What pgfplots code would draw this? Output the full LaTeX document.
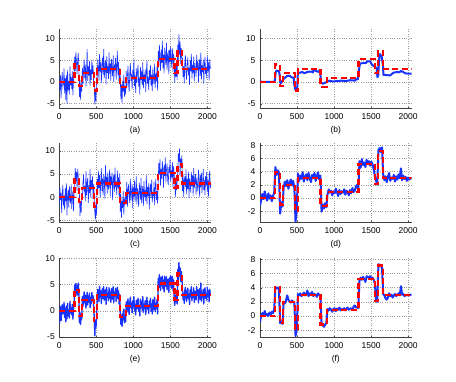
\documentclass[border=0pt]{standalone}
\usepackage{pgfplots}
\pgfplotsset{compat=1.18}
\usepackage{pgfplotstable}
\usepackage{fontspec}
\setmainfont{Liberation Sans}
\definecolor{mblue}{rgb}{0.1,0.2,1}

\pgfplotstableread[row sep=\\]{x y\\
0 0\\ 205 4\\ 266 -1\\ 307 2\\ 471 -2\\ 512 3\\ 819 -1.2\\ 901 0.9\\ 1331 5.2\\ 1556 2.1\\ 1597 7.1\\ 1659 3\\ 2048 3\\
}\tTrue

\pgfplotstableread[row sep=\\]{x y\\
0 0.8\\ 8 -2.1\\ 16 1.5\\ 24 -3.8\\ 32 0.4\\ 40 2.3\\ 48 -1.2\\ 56 -0.5\\ 64 3.1\\ 72 -2.6\\ 80 0.9\\ 88 -4.2\\ 96 1.7\\ 104 -5.0\\ 112 2.8\\ 120 -1.9\\ 128 0.2\\ 136 -2.9\\ 144 3.6\\ 152 -0.8\\ 160 1.1\\ 168 -1.6\\ 176 2.4\\ 184 -3.1\\ 192 0.6\\ 200 1.9\\
208 5.8\\ 216 2.5\\ 224 6.9\\ 232 4.3\\ 240 1.8\\ 248 5.2\\ 256 6.6\\ 264 3.1\\
272 -3.5\\ 280 0.4\\ 288 -4.1\\ 296 -0.4\\ 304 -2.2\\
312 3.3\\ 320 -0.4\\ 328 2.7\\ 336 5.2\\ 344 0.9\\ 352 4.0\\ 360 -1.0\\ 368 2.4\\ 376 7.6\\ 384 0.2\\ 392 3.6\\ 400 1.4\\ 408 4.7\\ 416 -0.9\\ 424 2.9\\ 432 0.5\\ 440 5.0\\ 448 1.8\\ 456 3.8\\ 464 -0.3\\
472 -0.3\\ 480 -5.2\\ 488 -1.5\\ 496 -4.4\\ 504 0.6\\
512 1.2\\ 520 5.2\\ 528 3.3\\ 536 0.3\\ 544 6.4\\ 552 2.4\\ 560 4.5\\ 568 -0.3\\ 576 3.8\\ 584 5.6\\ 592 1.6\\ 600 7.6\\ 608 0.9\\ 616 3.1\\ 624 4.9\\ 632 -0.6\\ 640 5.9\\ 648 2.1\\ 656 3.6\\ 664 0.7\\ 672 6.8\\ 680 1.8\\ 688 4.2\\ 696 0.2\\ 704 5.3\\ 712 3.4\\ 720 1.3\\ 728 6.1\\ 736 0.0\\ 744 4.0\\ 752 2.6\\ 760 5.5\\ 768 0.5\\ 776 3.7\\ 784 7.2\\ 792 1.5\\ 800 4.6\\ 808 -0.4\\ 816 3.2\\
824 0.9\\ 832 -4.0\\ 840 -0.6\\ 848 -4.8\\ 856 0.3\\ 864 -2.2\\ 872 1.7\\ 880 -3.4\\ 888 -0.9\\ 896 -2.9\\
904 2.5\\ 912 -1.4\\ 920 1.3\\ 928 3.7\\ 936 -0.6\\ 944 -2.2\\ 952 2.0\\ 960 4.3\\ 968 0.2\\ 976 1.8\\ 984 -1.7\\ 992 2.8\\ 1000 0.7\\ 1008 5.2\\ 1016 -0.9\\ 1024 1.5\\ 1032 -2.5\\ 1040 3.1\\ 1048 -0.2\\ 1056 2.3\\ 1064 3.9\\ 1072 -1.1\\ 1080 1.0\\ 1088 -2.9\\ 1096 3.4\\ 1104 0.4\\ 1112 2.6\\ 1120 -0.7\\ 1128 4.5\\ 1136 -1.5\\ 1144 1.7\\ 1152 0.0\\ 1160 2.9\\ 1168 -2.3\\ 1176 2.1\\ 1184 4.9\\ 1192 -0.4\\ 1200 1.2\\ 1208 -1.8\\ 1216 2.7\\ 1224 0.5\\ 1232 3.8\\ 1240 -1.0\\ 1248 1.6\\ 1256 -2.1\\ 1264 3.3\\ 1272 0.9\\ 1280 -0.5\\ 1288 4.2\\ 1296 -1.3\\ 1304 1.9\\ 1312 0.1\\ 1320 3.5\\ 1328 -2.0\\
1336 7.1\\ 1344 3.5\\ 1352 8.6\\ 1360 5.4\\ 1368 2.6\\ 1376 7.5\\ 1384 4.4\\ 1392 9.5\\ 1400 3.2\\ 1408 6.3\\ 1416 2.0\\ 1424 7.9\\ 1432 5.7\\ 1440 3.9\\ 1448 9.0\\ 1456 2.8\\ 1464 6.1\\ 1472 6.8\\ 1480 1.7\\ 1488 7.3\\ 1496 4.6\\ 1504 8.2\\ 1512 3.3\\ 1520 5.5\\ 1528 7.7\\ 1536 2.4\\ 1544 6.5\\ 1552 4.2\\
1560 -0.2\\ 1568 3.9\\ 1576 1.2\\ 1584 4.6\\ 1592 0.5\\
1600 8.6\\ 1608 4.7\\ 1616 11.0\\ 1624 6.3\\ 1632 9.3\\ 1640 4.1\\ 1648 7.8\\ 1656 5.4\\
1664 5.4\\ 1672 1.1\\ 1680 3.6\\ 1688 -0.3\\ 1696 4.7\\ 1704 6.1\\ 1712 2.1\\ 1720 0.5\\ 1728 4.2\\ 1736 5.6\\ 1744 1.6\\ 1752 3.3\\ 1760 -0.7\\ 1768 5.0\\ 1776 2.5\\ 1784 6.5\\ 1792 0.8\\ 1800 3.9\\ 1808 1.9\\ 1816 5.8\\ 1824 0.2\\ 1832 4.4\\ 1840 3.0\\ 1848 1.2\\ 1856 6.2\\ 1864 2.7\\ 1872 4.9\\ 1880 0.0\\ 1888 3.5\\ 1896 5.3\\ 1904 1.4\\ 1912 6.8\\ 1920 0.6\\ 1928 3.8\\ 1936 2.3\\ 1944 5.1\\ 1952 -0.4\\ 1960 4.1\\ 1968 5.7\\ 1976 1.8\\ 1984 3.4\\ 1992 0.9\\ 2000 6.0\\ 2008 2.4\\ 2016 4.5\\ 2024 0.3\\ 2032 5.2\\ 2040 3.2\\ 2047 3.1\\
}\tA

\pgfplotstableread[row sep=\\]{x y\\
0 0.3\\ 16 0\\ 190 0\\ 200 0.3\\ 212 2.2\\ 222 2.6\\ 255 2.5\\ 264 1.8\\ 272 0\\ 282 -0.3\\ 300 0.2\\ 315 0.6\\ 340 1.0\\ 370 1.4\\ 400 1.4\\ 428 1.1\\ 455 0.9\\ 464 -0.7\\ 477 -1.8\\ 495 -1.9\\ 503 -1.2\\ 512 2.2\\ 540 2.1\\ 570 2.3\\ 600 2.0\\ 640 2.3\\ 690 2.4\\ 715 2.2\\ 722 2.8\\ 760 2.5\\ 790 2.3\\ 805 2.7\\ 815 1.8\\ 825 -0.2\\ 850 -0.4\\ 880 -0.2\\ 900 0.0\\ 940 0.3\\ 980 0.1\\ 1040 0.2\\ 1100 0.3\\ 1160 0.2\\ 1220 0.4\\ 1280 0.3\\ 1297 0.6\\ 1322 0.6\\ 1335 2.5\\ 1350 4.2\\ 1400 4.4\\ 1430 4.3\\ 1445 4.7\\ 1490 4.7\\ 1510 4.0\\ 1540 3.6\\ 1576 3.2\\ 1586 1.1\\ 1598 1.5\\ 1608 5.0\\ 1620 6.4\\ 1644 5.8\\ 1660 4.0\\ 1668 1.6\\ 1700 1.6\\ 1757 1.5\\ 1800 2.1\\ 1850 2.3\\ 1880 2.2\\ 1905 2.5\\ 1935 2.3\\ 1960 2.0\\ 2000 1.9\\ 2047 1.9\\
}\tB

\pgfplotstableread[row sep=\\]{x y\\
0 -1.5\\ 8 2.2\\ 16 -0.6\\ 24 1.0\\ 32 -3.4\\ 40 0.7\\ 48 2.6\\ 56 -1.8\\ 64 0.3\\ 72 -2.7\\ 80 1.9\\ 88 -0.9\\ 96 3.0\\ 104 -3.9\\ 112 0.5\\ 120 1.6\\ 128 -2.2\\ 136 2.4\\ 144 -0.4\\ 152 -1.3\\ 160 2.9\\ 168 -2.5\\ 176 0.1\\ 184 1.3\\ 192 -3.0\\ 200 0.8\\
208 2.2\\ 216 6.3\\ 224 3.6\\ 232 5.5\\ 240 1.4\\ 248 6.1\\ 256 4.6\\ 264 2.8\\
272 0.6\\ 280 -4.0\\ 288 -0.8\\ 296 -3.3\\ 304 0.9\\
312 -0.5\\ 320 3.2\\ 328 4.9\\ 336 1.2\\ 344 2.4\\ 352 -0.9\\ 360 5.6\\ 368 0.4\\ 376 3.0\\ 384 4.2\\ 392 -1.2\\ 400 2.6\\ 408 0.9\\ 416 6.1\\ 424 0.0\\ 432 3.7\\ 440 1.7\\ 448 4.5\\ 456 -0.4\\ 464 2.9\\
472 0.2\\ 480 -3.4\\ 488 -4.8\\ 496 -1.0\\ 504 -3.9\\
512 3.9\\ 520 0.6\\ 528 5.7\\ 536 2.0\\ 544 4.8\\ 552 -0.1\\ 560 3.2\\ 568 6.3\\ 576 1.3\\ 584 4.1\\ 592 0.4\\ 600 5.0\\ 608 3.5\\ 616 -0.4\\ 624 6.9\\ 632 2.4\\ 640 4.4\\ 648 0.8\\ 656 5.5\\ 664 1.7\\ 672 3.0\\ 680 6.0\\ 688 0.2\\ 696 4.6\\ 704 2.6\\ 712 5.3\\ 720 -0.6\\ 728 3.8\\ 736 4.9\\ 744 1.1\\ 752 6.4\\ 760 2.2\\ 768 3.4\\ 776 0.5\\ 784 5.8\\ 792 1.9\\ 800 4.3\\ 808 0.0\\ 816 5.1\\
824 -3.2\\ 832 0.6\\ 840 -4.4\\ 848 -0.8\\ 856 -2.3\\ 864 1.3\\ 872 -3.8\\ 880 -0.3\\ 888 -1.7\\ 896 0.4\\
904 -0.3\\ 912 3.3\\ 920 -2.0\\ 928 1.6\\ 936 2.8\\ 944 0.4\\ 952 -1.2\\ 960 4.0\\ 968 -0.7\\ 976 1.2\\ 984 2.9\\ 992 -2.4\\ 1000 2.1\\ 1008 0.1\\ 1016 3.6\\ 1024 -1.0\\ 1032 1.4\\ 1040 4.5\\ 1048 -1.6\\ 1056 1.9\\ 1064 0.7\\ 1072 -2.1\\ 1080 3.1\\ 1088 1.7\\ 1096 -0.5\\ 1104 4.2\\ 1112 -1.3\\ 1120 1.0\\ 1128 2.4\\ 1136 -1.9\\ 1144 3.5\\ 1152 0.0\\ 1160 1.5\\ 1168 -0.8\\ 1176 4.7\\ 1184 -1.5\\ 1192 2.2\\ 1200 0.3\\ 1208 3.0\\ 1216 -2.6\\ 1224 1.8\\ 1232 2.6\\ 1240 -0.2\\ 1248 3.8\\ 1256 -1.1\\ 1264 1.1\\ 1272 0.2\\ 1280 3.3\\ 1288 -1.7\\ 1296 2.0\\ 1304 3.9\\ 1312 -0.6\\ 1320 1.3\\ 1328 -1.4\\
1336 3.3\\ 1344 7.4\\ 1352 4.9\\ 1360 8.2\\ 1368 2.5\\ 1376 6.2\\ 1384 4.0\\ 1392 7.8\\ 1400 5.6\\ 1408 2.1\\ 1416 7.0\\ 1424 4.6\\ 1432 8.6\\ 1440 3.2\\ 1448 5.9\\ 1456 7.3\\ 1464 3.7\\ 1472 2.6\\ 1480 6.5\\ 1488 5.2\\ 1496 8.1\\ 1504 3.4\\ 1512 5.8\\ 1520 4.3\\ 1528 7.6\\ 1536 2.2\\ 1544 6.7\\ 1552 4.8\\
1560 3.5\\ 1568 0.0\\ 1576 4.3\\ 1584 1.5\\ 1592 3.1\\
1600 5.2\\ 1608 9.5\\ 1616 7.7\\ 1624 10.5\\ 1632 4.5\\ 1640 8.3\\ 1648 6.4\\ 1656 9.1\\
1664 1.4\\ 1672 5.1\\ 1680 0.1\\ 1688 3.5\\ 1696 4.5\\ 1704 2.2\\ 1712 6.0\\ 1720 0.7\\ 1728 3.9\\ 1736 1.8\\ 1744 5.6\\ 1752 -0.2\\ 1760 4.1\\ 1768 3.0\\ 1776 1.0\\ 1784 5.4\\ 1792 2.4\\ 1800 4.7\\ 1808 0.3\\ 1816 6.3\\ 1824 2.0\\ 1832 3.4\\ 1840 5.0\\ 1848 0.5\\ 1856 4.2\\ 1864 2.7\\ 1872 1.2\\ 1880 5.9\\ 1888 3.7\\ 1896 0.0\\ 1904 4.9\\ 1912 2.1\\ 1920 5.3\\ 1928 0.9\\ 1936 3.2\\ 1944 6.1\\ 1952 1.6\\ 1960 3.8\\ 1968 0.4\\ 1976 4.6\\ 1984 2.5\\ 1992 5.5\\ 2000 1.1\\ 2008 3.6\\ 2016 0.2\\ 2024 4.4\\ 2032 5.7\\ 2040 1.9\\ 2047 2.8\\
}\tC

\pgfplotstableread[row sep=\\]{x y\\
0 -1.2\\ 16 -0.3\\ 32 0.6\\ 48 -0.2\\ 64 1.0\\ 80 0.2\\ 96 -0.4\\ 112 0.7\\ 128 -0.1\\ 144 0.4\\ 160 -0.5\\ 176 0.3\\ 192 0.8\\
208 4.7\\ 224 3.5\\ 240 4.2\\ 256 3.8\\
272 -2.4\\ 288 -0.7\\ 304 -1.3\\
320 1.6\\ 336 2.5\\ 352 1.8\\ 368 2.7\\ 384 1.4\\ 400 2.3\\ 416 2.8\\ 432 1.9\\ 448 2.6\\ 464 1.5\\
480 -3.6\\ 496 -1.9\\
512 3.7\\ 528 2.6\\ 544 3.4\\ 560 2.9\\ 576 3.9\\ 592 2.5\\ 608 3.2\\ 624 3.6\\ 640 2.7\\ 656 3.8\\ 672 3.0\\ 688 2.4\\ 704 3.5\\ 720 3.1\\ 736 3.8\\ 752 2.6\\ 768 3.3\\ 784 3.9\\ 800 2.8\\ 816 3.4\\
832 -2.1\\ 848 -1.0\\ 864 -1.6\\ 880 -0.8\\ 896 -1.4\\
912 0.5\\ 928 1.3\\ 944 0.8\\ 960 1.1\\ 976 0.4\\ 992 1.0\\ 1008 0.7\\ 1024 1.4\\ 1040 0.9\\ 1056 0.3\\ 1072 1.2\\ 1088 0.6\\ 1104 1.0\\ 1120 0.8\\ 1136 1.3\\ 1152 0.5\\ 1168 1.1\\ 1184 0.9\\ 1200 0.4\\ 1216 1.2\\ 1232 0.7\\ 1248 1.5\\ 1264 0.9\\ 1280 1.1\\ 1296 1.7\\ 1312 2.0\\ 1328 1.3\\
1344 5.6\\ 1360 4.6\\ 1376 5.9\\ 1392 5.0\\ 1408 5.4\\ 1424 4.7\\ 1440 5.8\\ 1456 5.2\\ 1472 5.6\\ 1488 4.9\\ 1504 5.5\\ 1520 5.1\\ 1536 4.4\\ 1552 3.3\\
1568 2.6\\ 1584 2.0\\
1600 7.3\\ 1616 7.6\\ 1632 7.0\\ 1648 7.7\\
1664 3.6\\ 1680 2.7\\ 1696 3.3\\ 1712 2.4\\ 1728 3.2\\ 1744 3.8\\ 1760 2.6\\ 1776 3.1\\ 1792 2.9\\ 1808 3.5\\ 1824 2.5\\ 1840 3.3\\ 1856 2.8\\ 1872 3.6\\ 1888 3.0\\ 1904 4.5\\ 1920 2.7\\ 1936 3.4\\ 1952 2.9\\ 1968 3.2\\ 1984 2.6\\ 2000 3.1\\ 2016 2.8\\ 2032 3.0\\ 2047 2.9\\
}\tD

\pgfplotstableread[row sep=\\]{x y\\
0 -2.6\\ 8 -1.0\\ 16 0.8\\ 24 -1.9\\ 32 0.2\\ 40 1.2\\ 48 -0.6\\ 56 -0.3\\ 64 1.6\\ 72 -1.3\\ 80 0.5\\ 88 -2.1\\ 96 0.9\\ 104 -1.5\\ 112 1.4\\ 120 -1.0\\ 128 0.1\\ 136 -1.4\\ 144 1.8\\ 152 -0.4\\ 160 0.6\\ 168 -0.8\\ 176 1.2\\ 184 -1.6\\ 192 0.3\\ 200 1.0\\
208 4.9\\ 216 3.3\\ 224 5.2\\ 232 4.2\\ 240 2.9\\ 248 4.6\\ 256 5.3\\ 264 3.6\\
272 -2.3\\ 280 -0.3\\ 288 -2.6\\ 296 -0.7\\ 304 -1.6\\
312 2.7\\ 320 0.8\\ 328 2.4\\ 336 3.6\\ 344 1.5\\ 352 3.0\\ 360 0.5\\ 368 2.2\\ 376 3.5\\ 384 1.1\\ 392 2.8\\ 400 1.7\\ 408 3.4\\ 416 0.6\\ 424 2.5\\ 432 1.3\\ 440 3.5\\ 448 1.9\\ 456 2.9\\ 464 0.9\\
472 -1.2\\ 480 -4.8\\ 488 -1.8\\ 496 -3.2\\ 504 -0.7\\
512 2.1\\ 520 4.1\\ 528 3.2\\ 536 1.7\\ 544 4.7\\ 552 2.7\\ 560 3.8\\ 568 1.4\\ 576 3.4\\ 584 4.3\\ 592 2.3\\ 600 4.6\\ 608 2.0\\ 616 3.1\\ 624 4.0\\ 632 1.2\\ 640 4.5\\ 648 2.6\\ 656 3.3\\ 664 1.9\\ 672 4.4\\ 680 2.4\\ 688 3.6\\ 696 1.6\\ 704 4.2\\ 712 3.2\\ 720 2.2\\ 728 4.6\\ 736 1.5\\ 744 3.5\\ 752 2.8\\ 760 4.3\\ 768 1.8\\ 776 3.4\\ 784 4.5\\ 792 2.3\\ 800 3.8\\ 808 1.3\\ 816 3.1\\
824 -0.2\\ 832 -2.6\\ 840 -0.9\\ 848 -3.0\\ 856 -0.5\\ 864 -1.7\\ 872 0.3\\ 880 -2.3\\ 888 -1.1\\ 896 -2.1\\
904 1.7\\ 912 -0.3\\ 920 1.1\\ 928 2.3\\ 936 0.2\\ 944 -0.7\\ 952 1.5\\ 960 2.6\\ 968 0.6\\ 976 1.4\\ 984 -0.4\\ 992 1.9\\ 1000 0.8\\ 1008 2.7\\ 1016 0.0\\ 1024 1.2\\ 1032 -0.8\\ 1040 2.0\\ 1048 0.4\\ 1056 1.6\\ 1064 2.4\\ 1072 -0.1\\ 1080 1.0\\ 1088 -1.0\\ 1096 2.2\\ 1104 0.7\\ 1112 1.8\\ 1120 0.1\\ 1128 2.7\\ 1136 -0.3\\ 1144 1.3\\ 1152 0.5\\ 1160 1.9\\ 1168 -0.7\\ 1176 1.5\\ 1184 2.6\\ 1192 0.3\\ 1200 1.1\\ 1208 -0.5\\ 1216 1.8\\ 1224 0.7\\ 1232 2.4\\ 1240 -0.1\\ 1248 1.3\\ 1256 -0.6\\ 1264 2.1\\ 1272 0.9\\ 1280 0.2\\ 1288 2.6\\ 1296 -0.2\\ 1304 1.4\\ 1312 0.5\\ 1320 2.2\\ 1328 -0.6\\
1336 6.2\\ 1344 4.4\\ 1352 6.9\\ 1360 5.3\\ 1368 3.9\\ 1376 6.4\\ 1384 4.8\\ 1392 6.6\\ 1400 4.2\\ 1408 5.8\\ 1416 3.6\\ 1424 6.6\\ 1432 5.5\\ 1440 4.6\\ 1448 6.5\\ 1456 4.0\\ 1464 5.7\\ 1472 6.0\\ 1480 3.5\\ 1488 6.3\\ 1496 4.9\\ 1504 6.7\\ 1512 4.3\\ 1520 5.4\\ 1528 6.5\\ 1536 3.8\\ 1544 5.9\\ 1552 2.2\\
1560 1.0\\ 1568 3.0\\ 1576 1.7\\ 1584 3.4\\ 1592 1.3\\
1600 7.9\\ 1608 5.9\\ 1616 9.2\\ 1624 6.7\\ 1632 8.2\\ 1640 5.6\\ 1648 7.5\\ 1656 6.3\\
1664 4.2\\ 1672 2.1\\ 1680 3.3\\ 1688 1.4\\ 1696 3.9\\ 1704 4.5\\ 1712 2.6\\ 1720 1.8\\ 1728 3.6\\ 1736 4.3\\ 1744 2.3\\ 1752 3.2\\ 1760 1.2\\ 1768 4.0\\ 1776 2.8\\ 1784 4.6\\ 1792 1.9\\ 1800 3.5\\ 1808 2.5\\ 1816 4.4\\ 1824 1.6\\ 1832 3.7\\ 1840 3.0\\ 1848 2.1\\ 1856 4.6\\ 1864 2.9\\ 1872 4.0\\ 1880 1.5\\ 1888 3.3\\ 1896 4.2\\ 1904 2.2\\ 1912 5.3\\ 1920 1.8\\ 1928 3.4\\ 1936 2.7\\ 1944 4.1\\ 1952 1.3\\ 1960 3.6\\ 1968 4.4\\ 1976 2.4\\ 1984 3.2\\ 1992 2.0\\ 2000 4.5\\ 2008 2.7\\ 2016 3.8\\ 2024 1.7\\ 2032 4.1\\ 2040 3.1\\ 2047 3.0\\
}\tE

\pgfplotstableread[row sep=\\]{x y\\
0 -0.8\\ 16 0.1\\ 32 0.4\\ 48 0.2\\ 64 0.7\\ 80 0.1\\ 96 0.3\\ 112 0.0\\ 128 0.5\\ 144 0.2\\ 160 0.6\\ 176 0.4\\ 192 1.0\\
208 4.1\\ 224 3.9\\ 240 4.0\\ 256 3.7\\
272 -1.0\\ 288 -0.8\\ 304 -1.1\\
320 2.0\\ 336 1.8\\ 352 2.2\\ 368 2.9\\ 384 2.3\\ 400 2.0\\ 416 1.9\\ 432 2.2\\ 448 2.0\\ 464 1.9\\
480 -2.8\\ 496 -1.9\\
512 3.1\\ 528 2.9\\ 544 3.2\\ 560 2.8\\ 576 3.0\\ 592 3.3\\ 608 2.9\\ 624 3.1\\ 640 3.6\\ 656 2.8\\ 672 3.2\\ 688 3.0\\ 704 3.4\\ 720 2.8\\ 736 3.1\\ 752 3.0\\ 768 2.7\\ 784 3.2\\ 800 3.0\\ 816 2.9\\
832 -1.1\\ 848 -1.3\\ 864 -1.5\\ 880 -1.2\\ 896 -1.0\\
912 1.0\\ 928 0.8\\ 944 1.1\\ 960 0.9\\ 976 0.6\\ 992 1.0\\ 1008 1.1\\ 1024 0.7\\ 1040 1.0\\ 1056 0.9\\ 1072 1.2\\ 1088 0.8\\ 1104 1.0\\ 1120 0.9\\ 1136 1.1\\ 1152 0.8\\ 1168 1.0\\ 1184 1.2\\ 1200 0.9\\ 1216 1.0\\ 1232 1.1\\ 1248 0.9\\ 1264 1.3\\ 1280 1.5\\ 1296 1.2\\ 1312 1.3\\ 1328 1.1\\
1344 5.0\\ 1360 5.4\\ 1376 5.1\\ 1392 5.5\\ 1408 5.2\\ 1424 4.8\\ 1440 5.6\\ 1456 5.5\\ 1472 5.4\\ 1488 5.6\\ 1504 5.3\\ 1520 5.4\\ 1536 5.1\\ 1552 4.6\\
1568 2.1\\ 1584 2.0\\
1600 7.3\\ 1616 7.2\\ 1632 7.0\\ 1648 6.9\\
1664 3.1\\ 1680 2.9\\ 1696 2.5\\ 1712 2.3\\ 1728 2.6\\ 1744 3.2\\ 1760 2.8\\ 1776 3.0\\ 1792 2.6\\ 1808 2.9\\ 1824 3.1\\ 1840 2.8\\ 1856 3.0\\ 1872 3.2\\ 1888 2.9\\ 1904 4.2\\ 1920 3.0\\ 1936 3.1\\ 1952 2.8\\ 1968 3.0\\ 1984 2.9\\ 2000 3.0\\ 2016 2.9\\ 2032 3.0\\ 2047 3.0\\
}\tF

\pgfplotsset{
  panel/.style={
    scale only axis, width=151.6pt, height=79.6pt, anchor=south west,
    xmin=0, xmax=2048, xtick={0,500,1000,1500,2000},
    scaled x ticks=false, scaled y ticks=false,
    axis x line*=bottom, axis y line*=left,
    axis line style={draw=black!75, line width=0.5pt},
    grid=major, major grid style={dotted, draw=black!40, line width=0.4pt},
    tick align=inside, major tick length=2pt, tick style={black!75},
    ticklabel style={font=\fontsize{8.5}{9}\selectfont},
    /pgf/number format/assume math mode=true,
    /pgf/number format/1000 sep={},
    xlabel style={font=\fontsize{8.5}{9}\selectfont},
    xticklabel style={yshift=-1pt},
    yticklabel style={xshift=-1pt},
  },
  noisy/.style={color=mblue, line width=0.6pt},
  thickb/.style={color=mblue, line width=2pt, line join=round},
  reddash/.style={const plot, color=red, line width=2.3pt, dash pattern=on 6pt off 3.5pt},
}

\begin{document}
\begin{tikzpicture}
\path[use as bounding box] (0,0) rectangle (456pt,382pt);
% (a)
\begin{axis}[panel, at={(59.3pt,273.3pt)}, ymin=-6.15, ymax=12.15, ytick={-5,0,5,10}, xlabel={(a)}]
\addplot[noisy] table {\tA};
\addplot[reddash] table {\tTrue};
\end{axis}
% (b)
\begin{axis}[panel, at={(260.0pt,273.3pt)}, ymin=-6.15, ymax=12.15, ytick={-5,0,5,10}, xlabel={(b)}]
\addplot[thickb] table {\tB};
\addplot[reddash] table {\tTrue};
\end{axis}
% (c)
\begin{axis}[panel, at={(59.3pt,159.3pt)}, ymin=-5.5, ymax=11.7, ytick={-5,0,5,10}, xlabel={(c)}]
\addplot[noisy] table {\tC};
\addplot[reddash] table {\tTrue};
\end{axis}
% (d)
\begin{axis}[panel, at={(260.0pt,159.3pt)}, ymin=-3.77, ymax=8.35, ytick={-2,0,2,4,6,8}, xlabel={(d)}]
\addplot[thickb] table {\tD};
\addplot[reddash] table {\tTrue};
\end{axis}
% (e)
\begin{axis}[panel, at={(59.3pt,44.3pt)}, ymin=-5.14, ymax=10.05, ytick={-5,0,5,10}, xlabel={(e)}]
\addplot[color=mblue, line width=1.3pt, line join=round] table {\tE};
\addplot[reddash] table {\tTrue};
\end{axis}
% (f)
\begin{axis}[panel, at={(260.0pt,44.3pt)}, ymin=-3.04, ymax=8.15, ytick={-2,0,2,4,6,8}, xlabel={(f)}]
\addplot[thickb] table {\tF};
\addplot[reddash] table {\tTrue};
\end{axis}
\end{tikzpicture}
\end{document}
